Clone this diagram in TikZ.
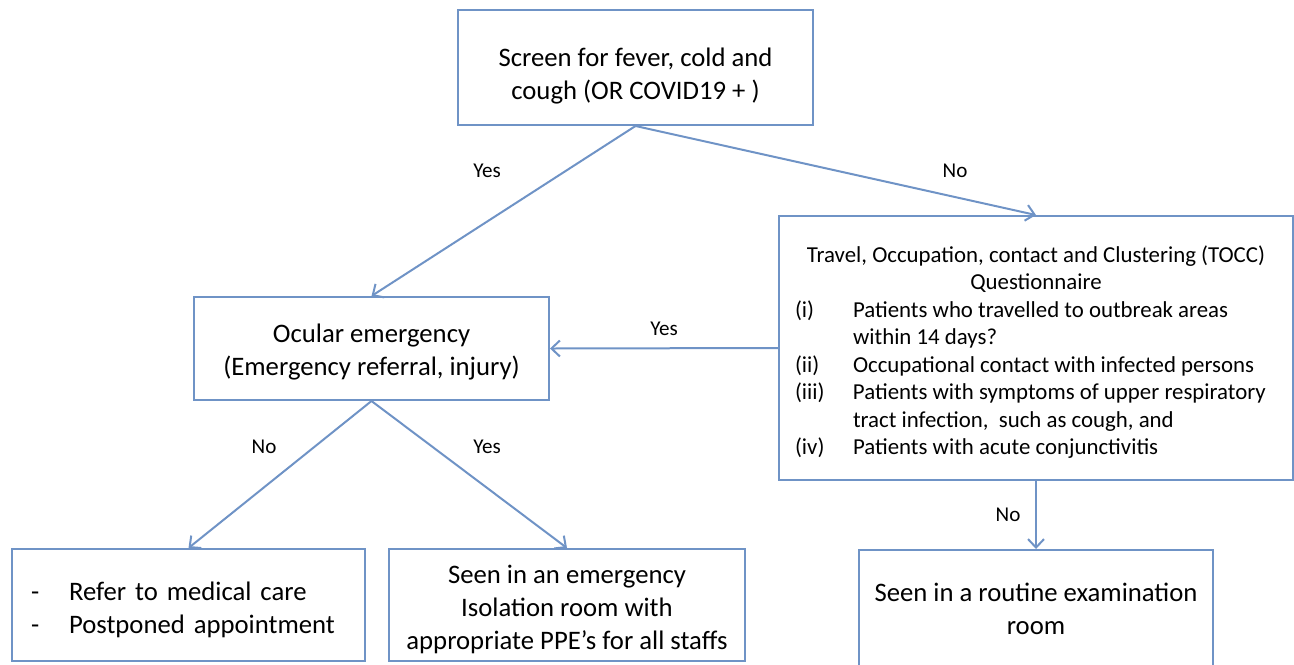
\documentclass[tikz,border=0pt]{standalone}
\usepackage{fontspec}
\setmainfont{Carlito}
\usetikzlibrary{arrows.meta}
\definecolor{flowblue}{HTML}{6F93C6}
\newcommand{\bigtext}{\fontsize{15.2}{18.9}\selectfont}
\newcommand{\listtext}{\fontsize{13}{15.6}\selectfont}
\newcommand{\labeltext}{\fontsize{12}{14}\selectfont}
\newcommand{\dropped}[2]{\raisebox{-#1}[\height][\depth]{#2}}

\begin{document}
\begin{tikzpicture}[x=0.02cm,y=-0.02cm]
    \useasboundingbox (0,0) rectangle (1294,664);

    \begin{scope}[every node/.style={draw=flowblue, line width=0.04cm, inner sep=0pt, align=center, font=\bigtext}]
        \node[minimum width=7.1cm, minimum height=2.3cm] (screen) at (635.5,67.5) {\dropped{0.18cm}{\begin{tabular}{@{}c@{}}Screen for fever, cold and\\ cough (OR COVID19 + )\end{tabular}}};
        \node[minimum width=7.1cm, minimum height=2.06cm] (ocular) at (371.5,348.5) {\dropped{0.08cm}{\begin{tabular}{@{}c@{}}Ocular emergency\\ (Emergency referral, injury)\end{tabular}}};
        \node[minimum width=10.28cm, minimum height=5.28cm, font=\listtext] (tocc) at (1036,348) {%
            \dropped{0.1cm}{\begin{tabular}{@{}p{1.16cm}@{}p{8.48cm}@{}}
                \multicolumn{2}{@{}c@{}}{Travel, Occupation, contact and Clustering (TOCC)}\\
                \multicolumn{2}{@{}c@{}}{Questionnaire}\\
                (i) & Patients who travelled to outbreak areas\\
                    & within 14 days?\\
                (ii) & Occupational contact with infected persons\\
                (iii) & Patients with symptoms of upper respiratory\\
                      & tract infection,\ \ such as cough, and\\
                (iv) & Patients with acute conjunctivitis
            \end{tabular}}};
        \node[minimum width=7.06cm, minimum height=2.24cm, text width=6.3cm, align=left] (refer) at (188.5,605) {%
            \dropped{0.11cm}{\begin{tabular}{@{}p{0.76cm}@{}l@{}}
                - & Refer to medical care\\
                - & Postponed appointment
            \end{tabular}}};
        \node[minimum width=7.12cm, minimum height=2.24cm] (isolation) at (567,605) {\dropped{0.1cm}{\begin{tabular}{@{}c@{}}Seen in an emergency\\ Isolation room with\\ appropriate PPE’s for all staffs\end{tabular}}};
        \node[minimum width=7.1cm, minimum height=2.36cm] (routine) at (1036,609) {Seen in a routine examination\\ room};
    \end{scope}

    \begin{scope}[every edge/.style={draw=flowblue, line width=0.04cm, -{Straight Barb[length=0.17cm,width=0.32cm]}}]
        \path (screen.south) edge (ocular.north);
        \path (screen.south) edge (tocc.north);
        \path (tocc.west) edge (ocular.east);
        \path (ocular.south) edge (refer.north);
        \path (ocular.south) edge (isolation.north);
        \path (tocc.south) edge (routine.north);
        \node[font=\labeltext] (yes1) at (487,171) {Yes};
        \node[font=\labeltext] (no1) at (955,171) {No};
        \node[font=\labeltext] (yes2) at (664,329) {Yes};
        \node[font=\labeltext] (no2) at (264,447) {No};
        \node[font=\labeltext] (yes3) at (487,447) {Yes};
        \node[font=\labeltext] (no3) at (1008,515) {No};
    \end{scope}
\end{tikzpicture}
\end{document}
